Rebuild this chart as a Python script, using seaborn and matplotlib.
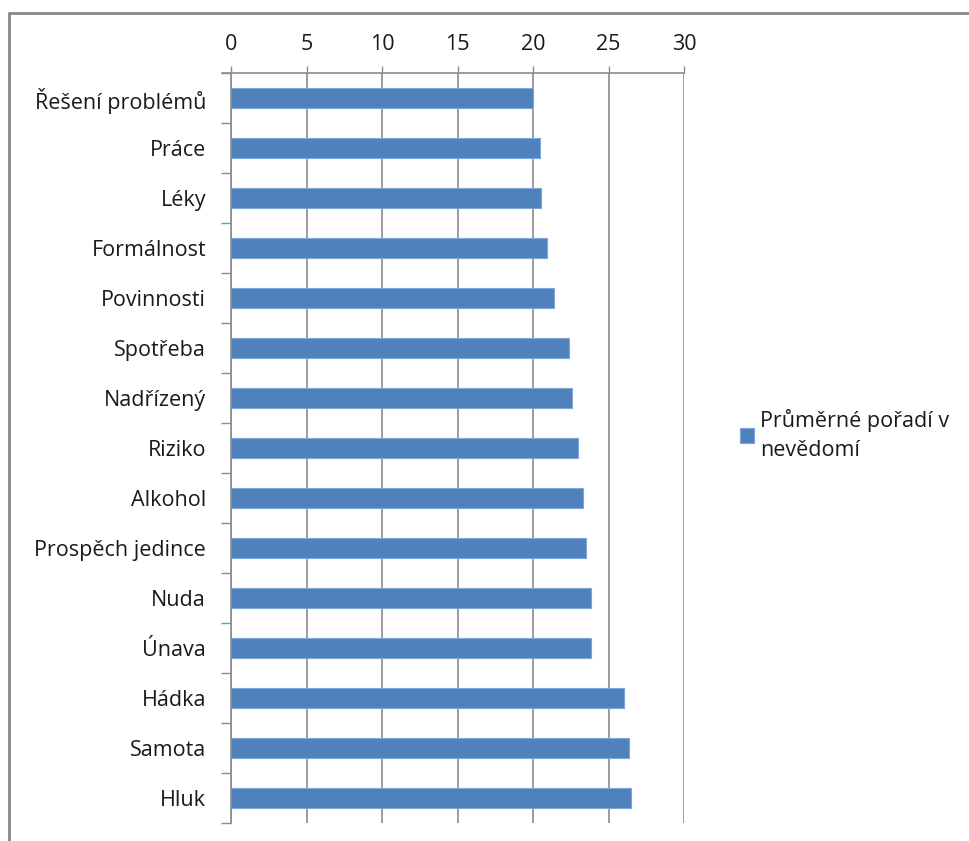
import matplotlib
matplotlib.use("Agg")
import matplotlib.pyplot as plt
from matplotlib.lines import Line2D
from matplotlib.ticker import FixedLocator
import seaborn as sns
import pandas as pd
import numpy as np

categories = ["Řešení problémů", "Práce", "Léky", "Formálnost", "Povinnosti",
              "Spotřeba", "Nadřízený", "Riziko", "Alkohol", "Prospěch jedince",
              "Nuda", "Únava", "Hádka", "Samota", "Hluk"]
values = [20.0, 20.45, 20.5, 20.95, 21.4,
          22.4, 22.6, 23.0, 23.3, 23.5,
          23.85, 23.85, 26.0, 26.35, 26.5]
x_ticks = [0, 5, 10, 15, 20, 25, 30]
series_label = "Průměrné pořadí v\nnevědomí"

df = pd.DataFrame({"kategorie": categories, "hodnota": values})

sns.set_theme(style="white")
plt.rcParams["font.family"] = ["Open Sans", "DejaVu Sans"]

W, H = 969, 841
fig = plt.figure(figsize=(W / 100, H / 100), dpi=100)
ax = fig.add_axes([231 / W, 1 - 823 / H, (684 - 231) / W, (823 - 73) / H])

bar_color = "#4F81BD"
sns.barplot(data=df, x="hodnota", y="kategorie", color=bar_color, width=0.4,
            saturation=1, edgecolor="#7FA6D6", linewidth=0.8,
            label=series_label, ax=ax)

grid_c = "#8C8C8C"
ax.set_xlim(0, 30)
ax.set_ylim(len(categories) - 0.5, -0.5)
ax.xaxis.set_major_locator(FixedLocator(x_ticks))
ax.xaxis.tick_top()
ax.set_xlabel("")
ax.set_ylabel("")
ax.grid(axis="x", color=grid_c, linewidth=1.2)
ax.grid(axis="y", visible=False)
ax.set_axisbelow(True)

for side in ["right", "bottom"]:
    ax.spines[side].set_visible(False)
for side in ["top", "left"]:
    ax.spines[side].set_visible(True)
    ax.spines[side].set_color(grid_c)
    ax.spines[side].set_linewidth(1.2)

text_c = "#1a1a1a"
fs = 15.5
ax.tick_params(axis="x", which="major", top=True, bottom=False, direction="out",
               length=5, width=1.0, color=grid_c, pad=8,
               labelsize=fs, labelcolor=text_c)
# category labels without tick marks; boundary ticks drawn as minor ticks
ax.yaxis.set_minor_locator(FixedLocator(np.arange(-0.5, len(categories), 1.0)))
ax.tick_params(axis="y", which="major", left=False, length=0, pad=18,
               labelsize=fs, labelcolor=text_c)
ax.tick_params(axis="y", which="minor", left=True, direction="out",
               length=7, width=1.0, color=grid_c)

# extend top axis line slightly to the left like the category ticks
ax.add_line(Line2D([-0.6, 0], [-0.5, -0.5], color=grid_c, linewidth=1.2,
                   clip_on=False))

leg = ax.legend(loc="center left", bbox_to_anchor=(740 / W, 1 - 435 / H),
                bbox_transform=fig.transFigure, frameon=False,
                fontsize=fs, handlelength=0.65, handleheight=0.65,
                handletextpad=0.3, labelcolor=text_c, borderaxespad=0,
                borderpad=0)
for t in leg.get_texts():
    t.set_linespacing(1.55)

# chart border (top and left edges)
fig.add_artist(Line2D([9 / W, 1], [1 - 13 / H, 1 - 13 / H], color="#888888",
                      linewidth=2, transform=fig.transFigure))
fig.add_artist(Line2D([9 / W, 9 / W], [0, 1 - 13 / H], color="#888888",
                      linewidth=2, transform=fig.transFigure))

fig.savefig("out.png", dpi=100)
